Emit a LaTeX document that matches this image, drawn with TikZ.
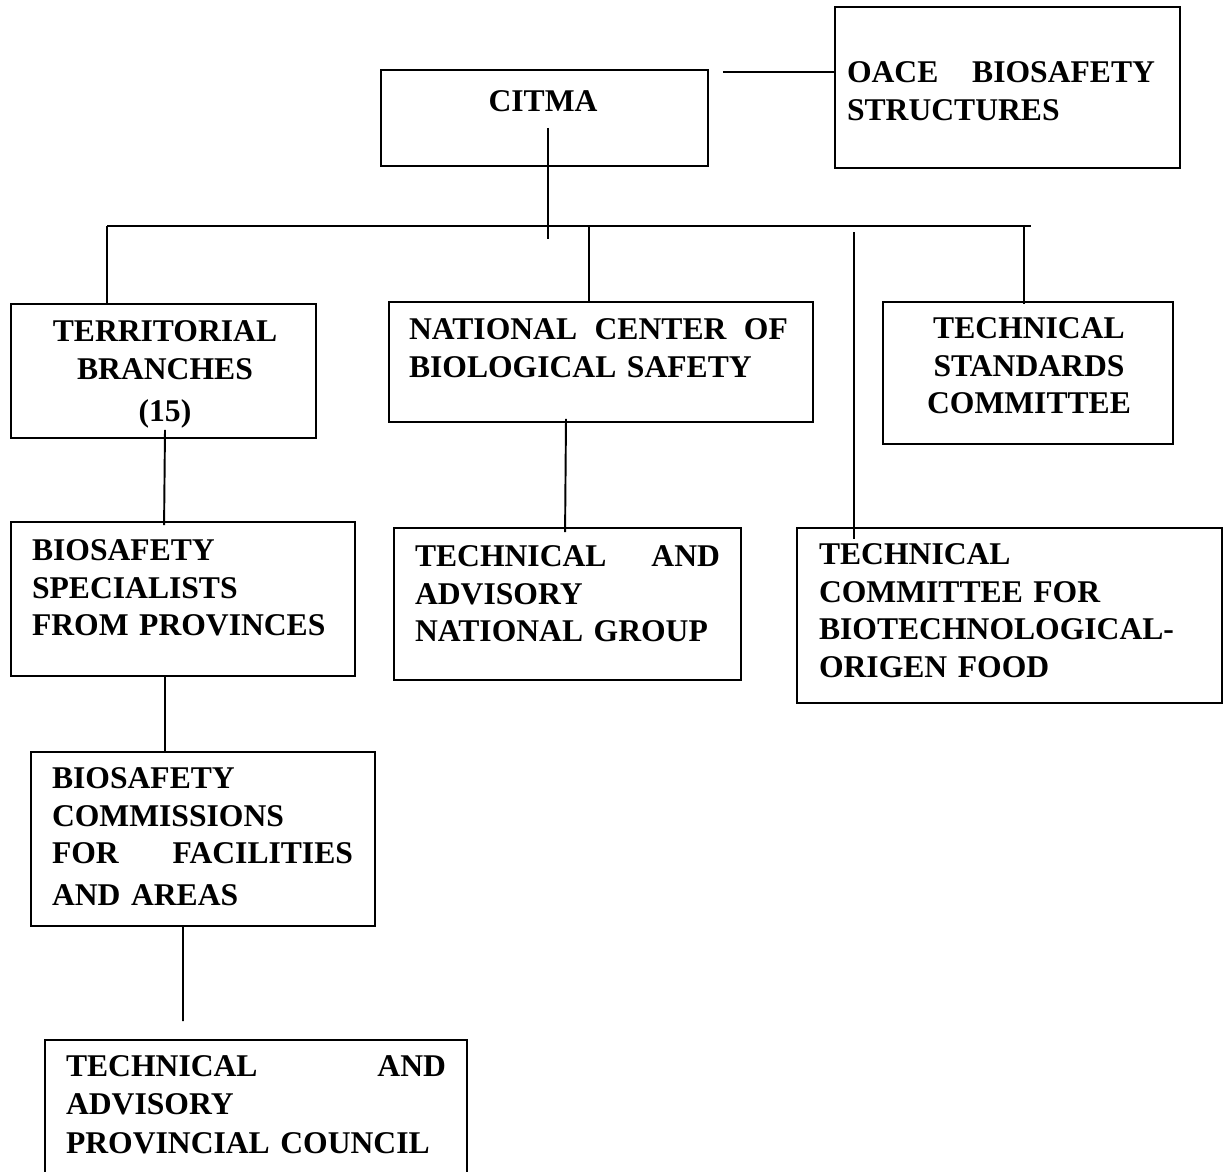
\documentclass[tikz,border=0pt]{standalone}
\usepackage{fontspec}
\setmainfont{Liberation Serif}
\usepackage{tikz}
\usetikzlibrary{positioning, calc}
\usepackage{xcolor}

\begin{document}
\begin{tikzpicture}[x=0.02cm, y=-0.02cm,
		box/.style={rectangle, draw, line width=1.1pt, inner sep=0pt},
		boxText/.style={inner sep=0pt, font=\fontsize{18}{21.6}\selectfont\bfseries},
		every path/.style={line width=1.1pt}]
		\useasboundingbox (0,0) rectangle (1225,1171);

		\node (citma)[box, minimum width=6.54cm, minimum height=1.92cm] at (544.5,118) {};
		\node (oace)[box, minimum width=6.9cm, minimum height=3.22cm] at (1007.5,87.5) {};
		\node (terrBranches)[box, minimum width=6.1cm, minimum height=2.68cm] at (163.5,371) {};
		\node (nationalCenter)[box, minimum width=8.48cm, minimum height=2.4cm] at (601,362) {};
		\node (techStandards)[box, minimum width=5.8cm, minimum height=2.84cm] at (1028,373) {};
		\node (specialists)[box, minimum width=6.88cm, minimum height=3.08cm] at (183,599) {};
		\node (nationalGroup)[box, minimum width=6.94cm, minimum height=3.04cm] at (567.5,604) {};
		\node (foodCommittee)[box, minimum width=8.5cm, minimum height=3.5cm] at (1009.5,615.5) {};
		\node (commissions)[box, minimum width=6.88cm, minimum height=3.48cm] at (203,839) {};
		\node (provincialCouncil)[box, minimum width=8.44cm, minimum height=3cm] at (256,1115) {};

		\node (citmaText)[boxText, anchor=base] at ($(citma.north)+(-1.5,42)$) {CITMA};
		\node (oaceText)[boxText, anchor=base west, text width=6.16cm, align=left] at ($(oace.north west)+(12,76)$) {OACE\hfill BIOSAFETY\\ STRUCTURES};
		\node (terrText)[boxText, anchor=base, text width=6cm, align=center] at ($(terrBranches.north)+(1.5,38)$) {TERRITORIAL\\ BRANCHES\\[0.1cm] (15)};
		\node (centerText)[boxText, anchor=base west, text width=7.58cm, align=left] at ($(nationalCenter.north west)+(20,38)$) {NATIONAL\hfill CENTER\hfill OF\\ BIOLOGICAL SAFETY};
		\node (standardsText)[boxText, anchor=base, text width=5.6cm, align=center] at ($(techStandards.north)+(1,37)$) {TECHNICAL\\ STANDARDS\\ COMMITTEE};
		\node (specialistsText)[boxText, anchor=base west, text width=6.4cm, align=left] at ($(specialists.north west)+(21,39)$) {BIOSAFETY\\ SPECIALISTS\\ FROM PROVINCES};
		\node (groupText)[boxText, anchor=base west, text width=6.1cm, align=left] at ($(nationalGroup.north west)+(21,39)$) {TECHNICAL\hfill AND\\ ADVISORY\\ NATIONAL GROUP};
		\node (foodText)[boxText, anchor=base west, text width=7.9cm, align=left] at ($(foodCommittee.north west)+(22,37)$) {TECHNICAL\\ COMMITTEE FOR\\ BIOTECHNOLOGICAL-\\ ORIGEN FOOD};
		\node (commissionsText)[boxText, anchor=base west, text width=6.02cm, align=left] at ($(commissions.north west)+(21,37)$) {BIOSAFETY\\ COMMISSIONS\\ FOR\hfill FACILITIES\\[0.08cm] AND AREAS};
		\node (councilText)[boxText, anchor=base west, text width=7.6cm, align=left] at ($(provincialCouncil.north west)+(21,37)$) {TECHNICAL\hfill AND\\ ADVISORY\\[0.04cm] PROVINCIAL COUNCIL};

		% bus under CITMA
		\coordinate (busLeft) at (107,226);
		\coordinate (busRight) at (1031,226);

		\draw ($(citma.north east)+(14,3)$) -- ($(citma.north east -| oace.west)+(0,3)$);
		\draw ($(citma.south)+(3.5,-39)$) -- ($(citma.south)+(3.5,72)$);
		\draw (busLeft) -- (busRight);
		\draw (busLeft) -- (busLeft |- terrBranches.north);
		\draw ([xshift=-0.24cm]nationalCenter.north |- busLeft) -- ([xshift=-0.24cm]nationalCenter.north);
		\draw ([xshift=-0.08cm]techStandards.north |- busLeft) -- ([xshift=-0.08cm, yshift=-0.06cm]techStandards.north);
		\draw ($(foodCommittee.north west |- busLeft)+(58,6)$) -- ($(foodCommittee.north west)+(58,12)$);
		\draw ($(terrBranches.south)+(1.5,-9)$) -- ($(specialists.north west)+(154,4)$);
		\draw ($(nationalCenter.south)+(-35,-4)$) -- ($(nationalGroup.north west)+(172,5)$);
		\draw ([xshift=-0.36cm]specialists.south) -- ([xshift=-0.76cm]commissions.north);
		\draw ([xshift=-0.4cm]commissions.south) -- ($(provincialCouncil.north)+(-73,-18)$);
	\end{tikzpicture}
\end{document}
